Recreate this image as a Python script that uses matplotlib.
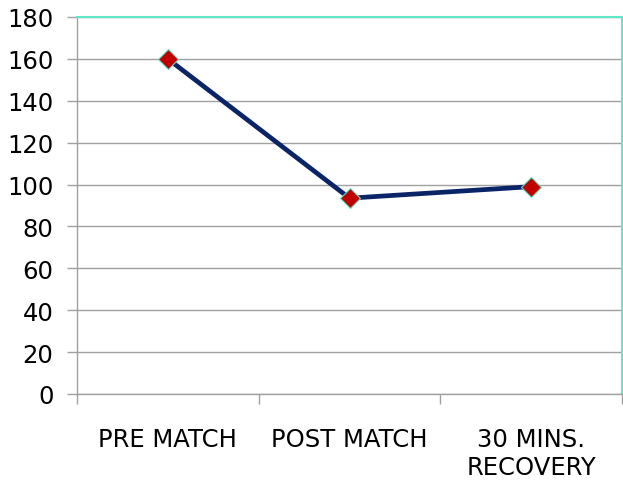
import matplotlib
matplotlib.use("Agg")
import matplotlib.pyplot as plt

categories = ["PRE MATCH", "POST MATCH", "30 MINS.\nRECOVERY"]
values = [160, 93.5, 99]
y_ticks = [0, 20, 40, 60, 80, 100, 120, 140, 160, 180]

fig = plt.figure(figsize=(6.23, 4.81), dpi=100)
ax = fig.add_axes([0.1236, 0.1788, 0.8748, 0.7838])

x = [i + 0.5 for i in range(len(categories))]
ax.plot(x, values, color="#0B2468", linewidth=3.4, solid_capstyle="round",
        marker="D", markersize=10.5, markerfacecolor="#C00000",
        markeredgecolor="#5FE0C0", markeredgewidth=0.8, zorder=3)

ax.set_xlim(0, len(categories))
ax.set_ylim(0, 180)
ax.set_yticks(y_ticks)
ax.set_yticklabels([str(t) for t in y_ticks], fontsize=17.5, family="DejaVu Sans")
ax.set_xticks([0, 1, 2, 3])
ax.set_xticklabels([])
ax.set_xticks(x, minor=True)
ax.set_xticklabels(categories, minor=True, fontsize=17.5, family="DejaVu Sans",
                   linespacing=1.2)
ax.tick_params(axis="x", which="minor", length=0, pad=24)
ax.tick_params(axis="x", which="major", length=7, color="#A0A0A0", width=1)
ax.tick_params(axis="y", length=7, color="#A0A0A0", width=1, pad=10)

ax.grid(axis="y", color="#A0A0A0", linewidth=1)
ax.set_axisbelow(True)

for side in ("left", "bottom"):
    ax.spines[side].set_color("#A0A0A0")
    ax.spines[side].set_linewidth(1)
for side in ("top", "right"):
    ax.spines[side].set_color("#5FE8C8")
    ax.spines[side].set_linewidth(1.5)

fig.savefig("out.png", dpi=100)
